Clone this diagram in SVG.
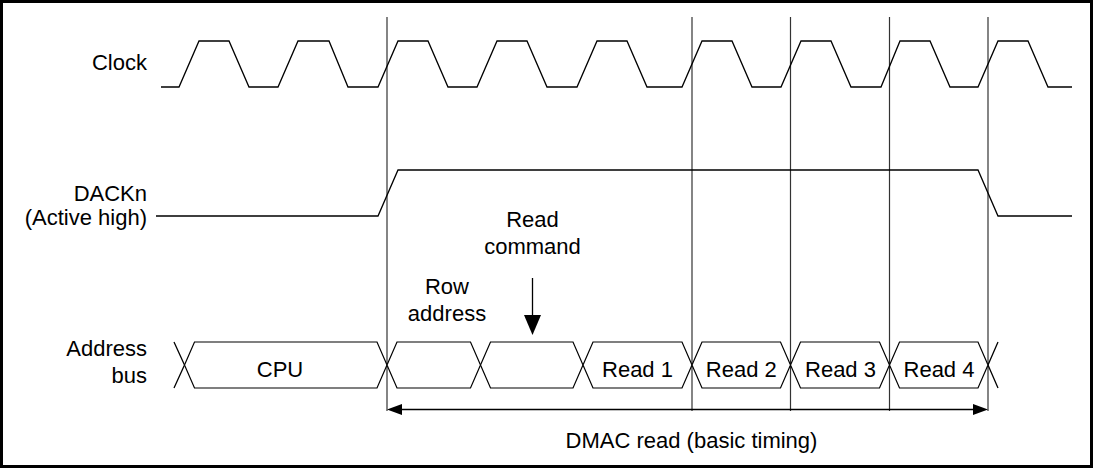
<svg xmlns="http://www.w3.org/2000/svg" width="1095" height="469" viewBox="0 0 1095 469">
<style>
text{font-family:"Liberation Sans",Arial,sans-serif;font-size:22px;fill:#000}
.lbl{text-anchor:end}
.mid{text-anchor:middle}
.sig{fill:none;stroke:#000;stroke-width:1.3;stroke-linejoin:miter}
.vl{stroke:#333;stroke-width:1.2}
.bus{fill:#fff;stroke:#000;stroke-width:1.2}
</style>
<rect x="1.5" y="1.5" width="1090" height="465" fill="#fff" stroke="#000" stroke-width="3"/>
<g id="connectors">
  <line class="vl" x1="387" y1="17" x2="387" y2="411"/>
  <line class="vl" x1="692" y1="17" x2="692" y2="411"/>
  <line class="vl" x1="790.5" y1="17" x2="790.5" y2="411"/>
  <line class="vl" x1="889.5" y1="17" x2="889.5" y2="411"/>
  <line class="vl" x1="988" y1="17" x2="988" y2="411"/>
  <line x1="400" y1="409.5" x2="975" y2="409.5" stroke="#000" stroke-width="1.3"/>
  <polygon points="387,409.5 402,404 402,415" fill="#000"/>
  <polygon points="988,409.5 973,404 973,415" fill="#000"/>
  <line x1="532.5" y1="278" x2="532.5" y2="317" stroke="#000" stroke-width="1.3"/>
  <polygon points="524,315 541,315 532.5,335" fill="#000"/>
</g>
<g id="clock">
  <text class="lbl" x="147" y="69.5">Clock</text>
  <path class="sig" d="M161,87 L179,87 L199,41 L229,41 L249,87 L278,87 L298,41 L329,41 L348,87 L378,87 L398,41 L428,41 L448,87 L477,87 L497,41 L527,41 L547,87 L577,87 L597,41 L627,41 L647,87 L682,87 L702,41 L732,41 L752,87 L781,87 L801,41 L831,41 L851,87 L881,87 L900,41 L930,41 L950,87 L978,87 L998,41 L1028,41 L1048,87 L1072,87"/>
</g>
<g id="dackn">
  <text class="lbl" x="147" y="201">DACKn</text>
  <text class="lbl" x="147" y="225">(Active high)</text>
  <path class="sig" d="M156,216 L378,216 L398,170 L978,170 L998,216 L1072,216"/>
</g>
<g id="address-bus">
  <text class="lbl" x="147" y="355.5">Address</text>
  <text class="lbl" x="147" y="383">bus</text>
  <path class="sig" d="M174,342 L184.5,365 L174,388 M998,342 L988,365 L998,388"/>
  <g id="cpu"><polygon class="bus" points="184.5,365 194.5,342 377,342 387,365 377,388 194.5,388"/><text class="mid" x="280" y="376.5">CPU</text></g>
  <g id="row-addr"><polygon class="bus" points="387,365 397,342 470.5,342 480.5,365 470.5,388 397,388"/></g>
  <g id="read-cmd"><polygon class="bus" points="480.5,365 490.5,342 573,342 583,365 573,388 490.5,388"/></g>
  <g id="read1"><polygon class="bus" points="583,365 593,342 682,342 692,365 682,388 593,388"/><text class="mid" x="637.5" y="376.5">Read 1</text></g>
  <g id="read2"><polygon class="bus" points="692,365 702,342 780.5,342 790.5,365 780.5,388 702,388"/><text class="mid" x="741.3" y="376.5">Read 2</text></g>
  <g id="read3"><polygon class="bus" points="790.5,365 800.5,342 879.5,342 889.5,365 879.5,388 800.5,388"/><text class="mid" x="840.5" y="376.5">Read 3</text></g>
  <g id="read4"><polygon class="bus" points="889.5,365 899.5,342 978,342 988,365 978,388 899.5,388"/><text class="mid" x="939" y="376.5">Read 4</text></g>
</g>
<g id="annotations">
  <text class="mid" x="532.5" y="226.5">Read</text>
  <text class="mid" x="532.5" y="254">command</text>
  <text class="mid" x="447" y="294">Row</text>
  <text class="mid" x="447" y="321">address</text>
  <text class="mid" x="691.5" y="448">DMAC read (basic timing)</text>
</g>
</svg>
